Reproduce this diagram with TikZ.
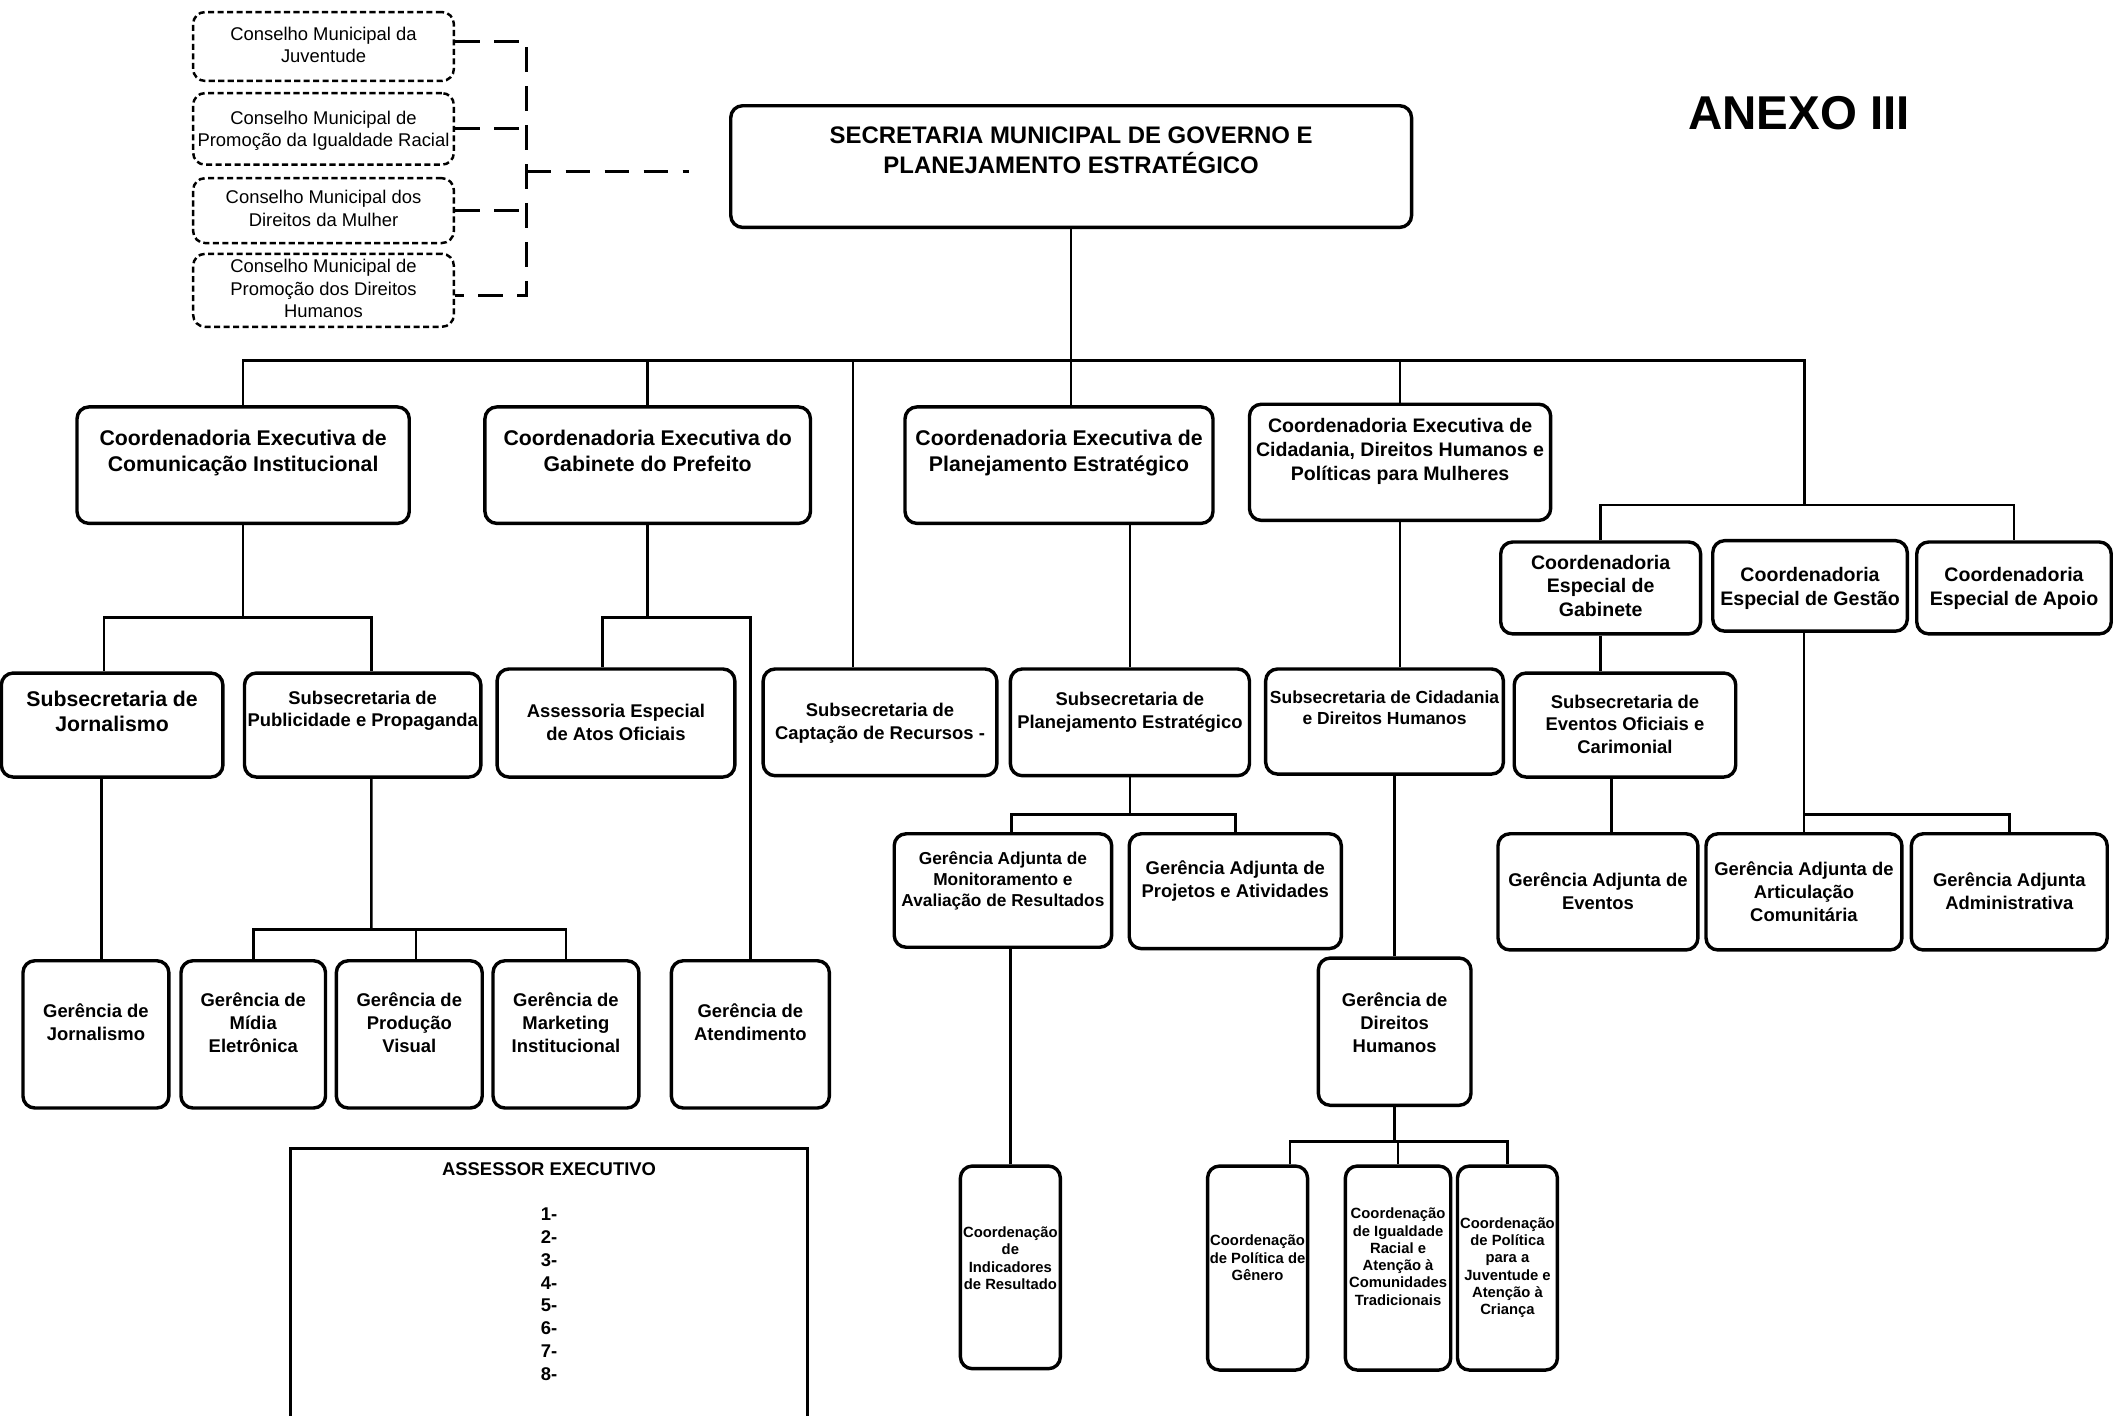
\documentclass[tikz,border=0pt]{standalone}
\usepackage{fontspec}
\setmainfont{Liberation Sans}
\begin{document}
\begin{tikzpicture}[x=0.25mm, y=-0.25mm,
  box/.style={draw, line width=1.8pt, rounded corners=2.2mm, align=center, inner xsep=0.5pt, inner ysep=0pt, anchor=north},
  conselho/.style={box, line width=1.3pt, dash pattern=on 3.2pt off 1.8pt, font=\fontsize{9.7}{11.8}\selectfont},
  geo/.style n args={3}{minimum width=#1, text height=#2, text depth=#3},
  fM/.style={font=\bfseries\fontsize{12.6}{15.6}\selectfont},
  fA/.style={font=\bfseries\fontsize{11.2}{13.5}\selectfont},
  fB/.style={font=\bfseries\fontsize{10.3}{12.6}\selectfont},
  fC/.style={font=\bfseries\fontsize{9.7}{12}\selectfont},
  fD/.style={font=\bfseries\fontsize{9.2}{11.4}\selectfont},
  fG/.style={font=\bfseries\fontsize{9.1}{11}\selectfont},
  fE/.style={font=\bfseries\fontsize{7.8}{9.1}\selectfont},
  link/.style={line width=1.3pt},
  dlink/.style={line width=1.6pt, dash pattern=on 13pt off 7.5pt}]

\useasboundingbox (0,0) rectangle (1568,1048);

\node[conselho, geo={48.25mm}{9.4mm}{3.35mm}] (c1) at (239.5,8) {Conselho Municipal da\\Juventude};
\node[conselho, geo={48.25mm}{9.9mm}{3.35mm}] (c2) at (239.5,68) {Conselho Municipal de\\Promoção da Igualdade Racial};
\node[conselho, geo={48.25mm}{8.9mm}{3.1mm}] (c3) at (239.5,131) {Conselho Municipal dos\\Direitos da Mulher};
\node[conselho, geo={48.25mm}{11.8mm}{1.7mm}] (c4) at (239.5,187) {Conselho Municipal de\\Promoção dos Direitos\\Humanos};

\node[box, fM, geo={126mm}{12.5mm}{10.02mm}] (main) at (793,77) {SECRETARIA MUNICIPAL DE GOVERNO E\\PLANEJAMENTO ESTRATÉGICO};
\node[font=\bfseries\fontsize{25}{30}\selectfont] (anexo) at (1332,84) {ANEXO III};

\node[box, fA, geo={61.5mm}{11.9mm}{9.65mm}] (ceCom) at (180,300) {Coordenadoria Executiva de\\Comunicação Institucional};
\node[box, fA, geo={60.25mm}{11.9mm}{9.65mm}] (ceGab) at (479.5,300) {Coordenadoria Executiva do\\Gabinete do Prefeito};
\node[box, fA, geo={57mm}{11.9mm}{9.65mm}] (cePlan) at (784,300) {Coordenadoria Executiva de\\Planejamento Estratégico};
\node[box, fB, geo={55.75mm}{14.11mm}{7.39mm}] (ceCid) at (1036.5,298) {Coordenadoria Executiva de\\Cidadania, Direitos Humanos e\\Políticas para Mulheres};

\node[box, fB, geo={37mm}{13.86mm}{3.14mm}] (espGab) at (1185,400) {Coordenadoria\\Especial de\\Gabinete};
\node[box, fB, geo={36mm}{11.93mm}{4.82mm}] (espGes) at (1340,399) {Coordenadoria\\Especial de Gestão};
\node[box, fB, geo={36mm}{11.68mm}{5.32mm}] (espApo) at (1491,400) {Coordenadoria\\Especial de Apoio};

\node[box, fA, geo={41mm}{10.9mm}{8.35mm}] (subJor) at (83,497) {Subsecretaria de\\Jornalismo};
\node[box, fC, geo={43.75mm}{9.97mm}{9.28mm}] (subPub) at (268.5,497) {Subsecretaria de\\Publicidade e Propaganda};
\node[box, fC, geo={44mm}{13.22mm}{6.78mm}] (assEsp) at (456,494) {Assessoria Especial\\de Atos Oficiais};
\node[box, fC, geo={43.25mm}{12.97mm}{6.78mm}] (subCap) at (651.5,494) {Subsecretaria de\\Captação de Recursos -};
\node[box, fC, geo={44.25mm}{10.97mm}{8.78mm}] (subPlan) at (836.5,494) {Subsecretaria de\\Planejamento Estratégico};
\node[box, fD, geo={44mm}{10.36mm}{9.09mm}] (subCid) at (1025,494) {Subsecretaria de Cidadania\\e Direitos Humanos};
\node[box, fC, geo={41mm}{14.94mm}{4.31mm}] (subEve) at (1203,497) {Subsecretaria de\\Eventos Oficiais e\\Carimonial};

\node[box, fC, geo={27mm}{14.72mm}{12.53mm}] (gerJor) at (71,710) {Gerência de\\Jornalismo};
\node[box, fC, geo={26.75mm}{16.94mm}{10.31mm}] (gerMid) at (187.5,710) {Gerência de\\Mídia\\Eletrônica};
\node[box, fC, geo={27mm}{16.94mm}{10.31mm}] (gerPro) at (303,710) {Gerência de\\Produção\\Visual};
\node[box, fC, geo={27mm}{16.94mm}{10.31mm}] (gerMkt) at (419,710) {Gerência de\\Marketing\\Institucional};
\node[box, fC, geo={29.25mm}{14.72mm}{12.53mm}] (gerAte) at (555.5,710) {Gerência de\\Atendimento};
\node[box, fG, geo={40.25mm}{13.48mm}{7.52mm}] (gaMon) at (742.5,616) {Gerência Adjunta de\\Monitoramento e\\Avaliação de Resultados};
\node[box, fC, geo={39.25mm}{11.72mm}{9.53mm}] (gaPro) at (914.5,616) {Gerência Adjunta de\\Projetos e Atividades};
\node[box, fC, geo={28.25mm}{17.44mm}{9.81mm}] (gerDH) at (1032.5,708) {Gerência de\\Direitos\\Humanos};
\node[box, fC, geo={37mm}{13.97mm}{7.53mm}] (gaEve) at (1183,616) {Gerência Adjunta de\\Eventos};
\node[box, fC, geo={36.25mm}{16.19mm}{5.31mm}] (gaArt) at (1335.5,616) {Gerência Adjunta de\\Articulação\\Comunitária};
\node[box, fC, geo={36.25mm}{13.97mm}{7.53mm}] (gaAdm) at (1487.5,616) {Gerência Adjunta\\Administrativa};

\node[box, fE, geo={18.5mm}{22.85mm}{14.65mm}] (coInd) at (748,862) {Coordenação\\de\\Indicadores\\de Resultado};
\node[box, fE, geo={18.5mm}{21.15mm}{16.6mm}] (coGen) at (931,862) {Coordenação\\de Política de\\Gênero};
\node[box, fE, geo={19.5mm}{25.75mm}{12mm}] (coIgu) at (1035,862) {Coordenação\\de Igualdade\\Racial e\\Atenção à\\Comunidades\\Tradicionais};
\node[box, fE, geo={18.5mm}{27.5mm}{10.25mm}] (coJuv) at (1116,862) {Coordenação\\de Política\\para a\\Juventude e\\Atenção à\\Criança};

\node[box, sharp corners, fC, geo={95.75mm}{42.9mm}{11.93mm}] (assessor) at (406.5,849) {ASSESSOR EXECUTIVO\\[11.6pt]1-\\2-\\3-\\4-\\5-\\6-\\7-\\8-};

\coordinate (spine) at (390,127);
\coordinate (dend) at (510,127);
\draw[dlink] ([yshift=1mm]c1.east) -- ([yshift=1mm]c1.east -| spine) -- ([yshift=-1mm]c4.east -| spine) -- ([yshift=-1mm]c4.east);
\draw[dlink] (c2.east) -- (c2.east -| spine);
\draw[dlink] (c3.east) -- (c3.east -| spine);
\draw[dlink] (spine) -- (dend);

\coordinate (bus) at (793,267);
\coordinate (espBus) at (1336,374);
\draw[link] (main) -- (main |- cePlan.north);
\draw[link] (ceCom.north) |- (bus) -| (espBus);
\draw[link] (ceGab.north) -- (ceGab.north |- bus);
\draw[link] ([xshift=-5mm]subCap.north) -- ([xshift=-5mm]subCap.north |- bus);
\draw[link] (ceCid.north) -- (ceCid.north |- bus);
\draw[link] (espGab.north) |- (espBus) -| (espApo.north);

\coordinate (comBus) at (180,457);
\draw[link] (ceCom.south) -- (comBus);
\draw[link] ([xshift=-1.5mm]subJor.north) |- (comBus) -| ([xshift=1.6mm]subPub.north);
\draw[link] ([xshift=1mm]gerJor.north) -- ([xshift=1mm]gerJor.north |- subJor.south);
\coordinate (pubBus) at (275,688);
\draw[link] ([xshift=1.6mm]subPub.south) -- (pubBus);
\draw[link] (gerMid.north) |- (pubBus) -| (gerMkt.north);
\draw[link] ([xshift=1.25mm]gerPro.north) -- ([xshift=1.25mm]gerPro.north |- pubBus);

\coordinate (gabBus) at (479.5,457);
\draw[link] (ceGab.south) -- (gabBus);
\draw[link] ([xshift=-2.5mm]assEsp.north) |- (gabBus) -| (gerAte.north);

\draw[link] (subPlan.north) -- (subPlan.north |- cePlan.south);
\coordinate (planBus) at (836.5,603);
\draw[link] (subPlan.south) -- (planBus);
\draw[link] ([xshift=1.6mm]gaMon.north) |- (planBus) -| (gaPro.north);
\draw[link] (coInd.north) -- (coInd.north |- gaMon.south);

\draw[link] (ceCid.south) -- (ceCid.south |- subCid.north);
\draw[link] (gerDH.north) -- (gerDH.north |- subCid.south);
\coordinate (dhBus) at (1032.5,845);
\draw[link] (gerDH.south) -- (dhBus);
\draw[link] ([xshift=6mm]coGen.north) |- (dhBus) -| (coJuv.north);
\draw[link] (coIgu.north) -- (coIgu.north |- dhBus);

\draw[link] (espGab.south) -- (espGab.south |- subEve.north);
\draw[link] ([xshift=-2.5mm]subEve.south) -- ([xshift=-2.5mm]subEve.south |- gaEve.north);
\coordinate (gesBus) at (1335.5,603);
\draw[link] (gaArt.north |- espGes.south) -- (gaArt.north);
\draw[link] (gesBus) -| (gaAdm.north);

\end{tikzpicture}
\end{document}
